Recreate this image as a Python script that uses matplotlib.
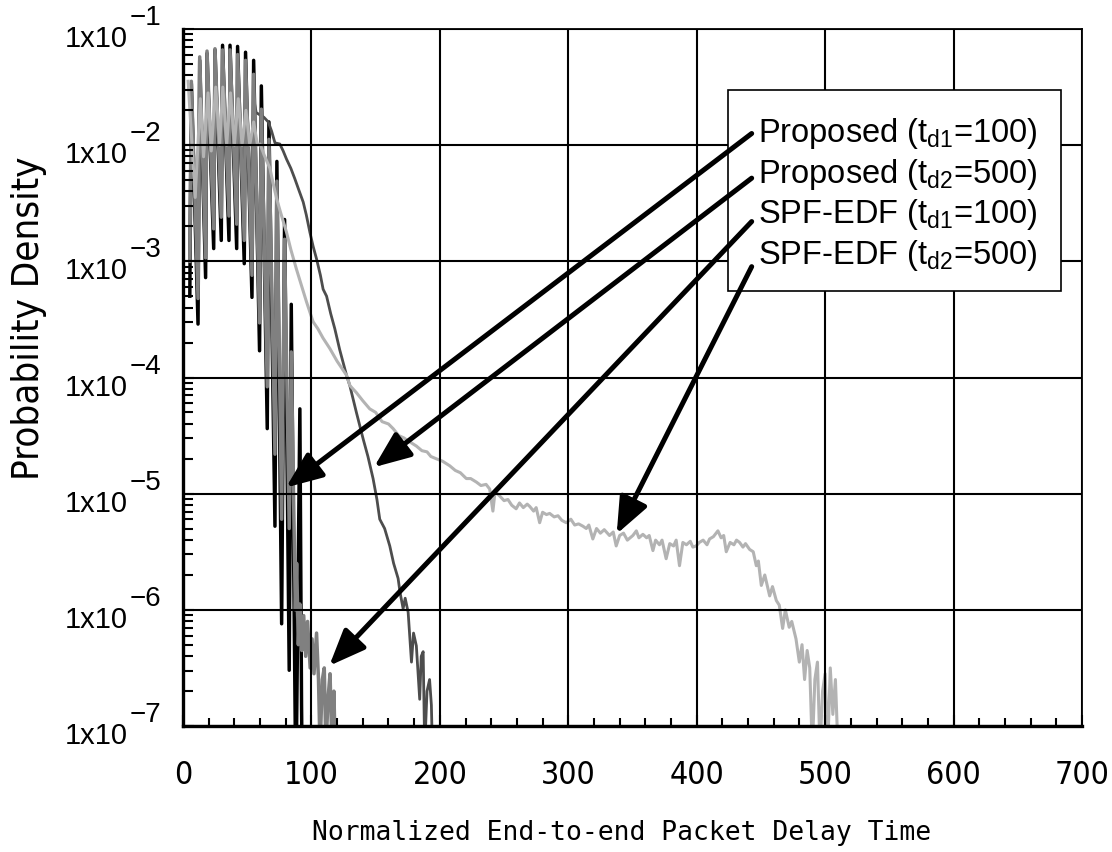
import matplotlib
matplotlib.use("Agg")
import matplotlib.pyplot as plt
import numpy as np
from matplotlib import transforms
from matplotlib.patches import Rectangle
from matplotlib.ticker import MultipleLocator, LogLocator, NullFormatter

plt.rcParams['mathtext.default'] = 'regular'

# ---- data: normalized end-to-end delay vs. log10(probability density) ----
# Proposed (td1=100)
prop_td1_x = [5.3, 6.5, 11.7, 13.0, 17.6, 18.7, 23.9, 24.9, 29.8, 30.8, 35.8, 36.6,
              41.8, 42.5, 47.7, 48.7, 53.7, 55.0, 59.6, 61.0, 65.6, 66.9, 71.6, 73.1,
              76.8, 79.1, 82.7, 84.3, 87.9, 91.0, 92.3, 93.0]
prop_td1_log = [-3.30, -1.47, -3.54, -1.27, -3.14, -1.21, -2.89, -1.18, -2.82, -1.14, -2.82, -1.14,
                -2.89, -1.15, -3.02, -1.20, -3.31, -1.27, -3.77, -1.49, -4.44, -1.80, -5.28, -2.14,
                -6.12, -2.64, -6.52, -3.37, -7.60, -4.27, -6.82, -7.60]

# SPF-EDF (td1=100)
spf_td1_x = [5.3, 6.5, 11.7, 13.0, 17.6, 18.7, 23.9, 24.9, 29.8, 30.8, 35.8, 36.6,
             41.8, 42.5, 47.7, 48.7, 53.7, 55.0, 59.6, 61.0, 65.6, 66.9, 71.6, 73.1,
             76.8, 79.1, 82.7, 84.3, 87.5, 88.5, 89.8, 91.0, 92.5, 94.0, 95.5, 97.0,
             99.0, 100.5, 102.0, 104.0, 105.5, 106.7, 108.5, 110.0, 111.3, 113.0, 114.5,
             116.0, 117.5, 118.5]
spf_td1_log = [-3.00, -1.45, -3.32, -1.24, -2.97, -1.19, -2.72, -1.17, -2.62, -1.18, -2.61, -1.18,
               -2.68, -1.22, -2.82, -1.27, -3.12, -1.39, -3.53, -1.69, -4.08, -1.95, -4.66, -2.31,
               -5.22, -2.81, -5.30, -3.78, -6.00, -5.60, -6.30, -5.95, -6.35, -6.05, -6.40, -6.10,
               -6.50, -6.25, -6.55, -6.20, -6.60, -7.20, -6.60, -6.50, -7.20, -6.75, -6.55,
               -7.20, -6.70, -7.20]

# Proposed (td2=500)
prop_td2_x = [5.3, 6.5, 11.7, 13.0, 17.6, 18.7, 23.9, 24.9, 29.8, 30.8, 35.8, 36.6,
              41.8, 42.5, 47.7, 48.7, 53.7, 55.0, 57.0, 60.0, 63.0, 66.4, 69.0, 71.6, 75.4,
              78.0, 80.6, 84.0, 87.1, 90.0, 93.6, 96.0, 98.8, 101.3, 104.0, 107.0, 109.1,
              111.8, 115.0, 118.2, 122.0, 127.3, 129.9, 135.0, 140.3, 144.0, 148.0, 151.0,
              153.2, 157.0, 161.0, 164.0, 167.5, 169.0, 171.4, 173.0, 175.3, 177.9, 179.5,
              181.7, 184.3, 185.5, 187.0, 188.2, 190.0, 192.0, 193.4, 194.2]
prop_td2_log = [-2.90, -1.50, -3.20, -1.30, -2.90, -1.25, -2.70, -1.22, -2.60, -1.22, -2.60, -1.24,
                -2.62, -1.30, -2.70, -1.40, -2.60, -1.60, -1.72, -1.74, -1.76, -1.80, -1.88, -1.98, -1.99,
                -2.05, -2.12, -2.20, -2.29, -2.38, -2.49, -2.60, -2.75, -2.87, -2.98, -3.12, -3.24,
                -3.30, -3.45, -3.58, -3.76, -3.98, -4.07, -4.30, -4.53, -4.68, -4.87, -5.05,
                -5.22, -5.30, -5.45, -5.60, -5.73, -5.85, -5.99, -5.90, -6.02, -6.45, -6.20,
                -6.31, -6.77, -6.40, -6.36, -7.20, -6.70, -6.60, -6.82, -7.20]

# SPF-EDF (td2=500)
spf_td2_x = [4.0, 9.5, 13.5, 16.0, 19.5, 22.0, 25.5, 28.5, 31.0, 34.0, 37.0, 40.0, 43.0, 46.0,
             49.0, 52.0, 55.0, 58.0, 60.0, 63.0, 67.7, 70.0, 72.9, 76.0, 80.6, 84.0, 88.4,
             92.0, 96.2, 101.3, 105.0, 109.0, 114.3, 120.0, 127.3, 130.0, 135.0, 140.0, 145.4,
             150.0, 155.0, 160.0, 163.6, 168.0, 172.0, 176.0, 181.7, 186.0, 190.0, 193.0,
             197.3, 202.0, 207.7, 212.0, 216.0, 220.6, 224.0, 228.4, 232.0, 236.0, 238.8,
             241.3, 243.0, 246.6, 250.0, 253.0, 256.0, 259.4, 262.0, 265.0, 268.0, 270.0,
             273.0, 275.0, 277.7, 280.0, 283.0, 285.5, 289.0, 292.0, 295.0, 298.4, 302.0,
             305.0, 308.0, 311.4, 314.0, 316.0, 319.1, 322.0, 325.0, 328.0, 332.1, 335.0,
             337.3, 340.0, 343.0, 346.0, 350.3, 353.0, 355.0, 358.1, 361.0, 363.0, 365.9,
             368.0, 371.0, 373.0, 376.2, 379.0, 382.0, 384.0, 386.6, 389.2, 392.0, 395.0,
             397.0, 399.6, 402.0, 405.0, 408.0, 410.0, 413.0, 416.5, 419.0, 421.0, 423.0,
             426.0, 429.0, 431.0, 433.4, 436.0, 438.0, 441.2, 444.0, 446.4, 448.0, 450.3,
             453.0, 456.8, 459.0, 462.0, 464.3, 466.9, 469.0, 472.0, 474.0, 477.3, 479.9,
             482.0, 484.0, 486.0, 488.0, 490.0, 492.0, 494.0, 496.0, 498.0, 500.0, 502.0,
             504.0, 506.0, 508.0, 510.0]
spf_td2_log = [-1.45, -2.45, -1.60, -2.10, -1.55, -2.05, -1.50, -2.00, -1.50, -2.00, -1.55, -2.00, -1.60, -2.00,
               -1.70, -2.00, -1.80, -2.00, -1.99, -2.08, -2.20, -2.32, -2.46, -2.58, -2.75, -2.90, -3.07,
               -3.20, -3.35, -3.52, -3.58, -3.66, -3.75, -3.86, -3.98, -4.07, -4.13, -4.20, -4.27,
               -4.30, -4.38, -4.40, -4.44, -4.50, -4.52, -4.55, -4.59, -4.63, -4.64, -4.68,
               -4.70, -4.72, -4.76, -4.80, -4.82, -4.87, -4.87, -4.90, -4.93, -4.92, -4.96,
               -5.15, -4.98, -5.02, -5.06, -5.05, -5.10, -5.13, -5.08, -5.12, -5.09, -5.11,
               -5.15, -5.12, -5.25, -5.16, -5.18, -5.17, -5.20, -5.19, -5.23, -5.25, -5.22,
               -5.27, -5.26, -5.28, -5.30, -5.27, -5.39, -5.30, -5.34, -5.31, -5.36, -5.33,
               -5.45, -5.36, -5.34, -5.40, -5.36, -5.32, -5.38, -5.35, -5.38, -5.36, -5.49,
               -5.40, -5.44, -5.40, -5.56, -5.43, -5.45, -5.40, -5.62, -5.42, -5.44, -5.41,
               -5.46, -5.45, -5.42, -5.40, -5.44, -5.39, -5.37, -5.32, -5.38, -5.36, -5.50,
               -5.42, -5.44, -5.40, -5.42, -5.46, -5.43, -5.48, -5.50, -5.62, -5.58, -5.79,
               -5.70, -5.88, -5.80, -5.92, -5.96, -6.16, -6.00, -6.15, -6.10, -6.25, -6.45,
               -6.30, -6.60, -6.35, -6.50, -7.20, -6.60, -6.45, -7.20, -6.70, -6.55, -7.20,
               -6.50, -6.90, -6.60, -7.20]

series_labels = ["Proposed (t$_{d1}$=100)", "Proposed (t$_{d2}$=500)",
                 "SPF-EDF (t$_{d1}$=100)", "SPF-EDF (t$_{d2}$=500)"]
# arrow tail (x, density) and head (x, density) for each label
arrow_tails = [(442.8, 1.26e-2), (442.8, 5.2e-3), (442.8, 2.2e-3), (442.8, 9.0e-4)]
arrow_heads = [(80.2, 1.13e-5), (148.7, 1.69e-5), (113.9, 3.3e-7), (337.7, 4.5e-6)]

x_ticks = [0, 100, 200, 300, 400, 500, 600, 700]
y_exponents = [-7, -6, -5, -4, -3, -2, -1]

# ---- figure ----
fig = plt.figure(figsize=(11.12, 8.53), dpi=100)
ax = fig.add_axes([183 / 1112, 1 - 727 / 853, 899 / 1112, 697 / 853])
ax.set_yscale('log')
ax.set_xlim(0, 700)
ax.set_ylim(1e-7, 1e-1)

def dens(v):
    return 10.0 ** np.asarray(v)

ax.plot(prop_td1_x, dens(prop_td1_log), color='#000000', lw=2.5, zorder=2.0,
        solid_joinstyle='round')
ax.plot(prop_td2_x, dens(prop_td2_log), color='#4d4d4d', lw=2.0, zorder=2.05,
        solid_joinstyle='round')
ax.plot(spf_td1_x, dens(spf_td1_log), color='#808080', lw=2.5, zorder=2.1,
        solid_joinstyle='round')
ax.plot(spf_td2_x, dens(spf_td2_log), color='#b3b3b3', lw=2.2, zorder=2.3,
        solid_joinstyle='round')

# grid and frame
ax.set_axisbelow(False)
ax.grid(True, which='major', color='black', lw=1.5, zorder=2.5)
for side in ['left', 'bottom']:
    ax.spines[side].set_linewidth(2.4)
for side in ['top', 'right']:
    ax.spines[side].set_linewidth(1.3)

ax.set_xticks(x_ticks)
ax.xaxis.set_minor_locator(MultipleLocator(20))
ax.yaxis.set_major_locator(LogLocator(base=10, numticks=20))
ax.yaxis.set_minor_locator(LogLocator(base=10, subs=np.arange(2, 10), numticks=20))
ax.yaxis.set_minor_formatter(NullFormatter())
ax.tick_params(which='both', direction='in', top=False, right=False, width=1.5)
ax.tick_params(axis='x', which='major', length=8, pad=24)
ax.tick_params(axis='x', which='minor', length=6)
ax.tick_params(axis='y', which='major', length=8)
ax.tick_params(axis='y', which='minor', length=7)
ax.set_xticklabels([str(v) for v in x_ticks], fontsize=23, family='DejaVu Sans',
                   fontstretch='condensed')
ax.set_yticklabels([])

# y tick labels written as 1x10 with raised exponent
ytrans = transforms.blended_transform_factory(ax.transAxes, ax.transData)
for e in y_exponents:
    base_t = transforms.offset_copy(ytrans, fig=fig, x=0, y=-9, units='dots')
    sup_t = transforms.offset_copy(ytrans, fig=fig, x=0, y=12, units='dots')
    ax.text((128 - 183) / 899, 10.0 ** e, "1x10", transform=base_t, ha='right',
            va='center', fontsize=21, family='Liberation Sans', clip_on=False)
    ax.text((130 - 183) / 899, 10.0 ** e, "\u2212%d" % (-e), transform=sup_t, ha='left',
            va='center', fontsize=20, family='Liberation Sans', clip_on=False)

fig.text(29 / 1112, 1 - 318 / 853, "Probability Density", rotation=90, ha='center',
         va='center', fontsize=27.5, family='DejaVu Sans', fontstretch='condensed')
fig.text(622 / 1112, 1 - 833 / 853, "Normalized End-to-end Packet Delay Time",
         ha='center', va='center', fontsize=19, family='DejaVu Sans Mono')

# label box with arrows
box = Rectangle(((728 - 183) / 899, 1 - (292 - 30) / 697), (1061 - 728) / 899,
                (292 - 91) / 697, transform=ax.transAxes, facecolor='white',
                edgecolor='black', lw=1.2, zorder=3)
ax.add_patch(box)
text_rows_px = [134, 175, 215, 256]
for lab, row in zip(series_labels, text_rows_px):
    ax.text((758 - 183) / 899, 1 - (row - 30) / 697, lab, transform=ax.transAxes,
            ha='left', va='center', fontsize=23.5, family='Liberation Sans',
            zorder=4)
for tail, head in zip(arrow_tails, arrow_heads):
    ax.annotate('', xy=head, xytext=tail, xycoords='data', textcoords='data',
                arrowprops=dict(arrowstyle='-|>,head_length=1.1,head_width=0.45',
                                mutation_scale=20, lw=3.6, color='black',
                                shrinkA=0, shrinkB=0),
                zorder=5)

fig.savefig('out.png', dpi=100)
